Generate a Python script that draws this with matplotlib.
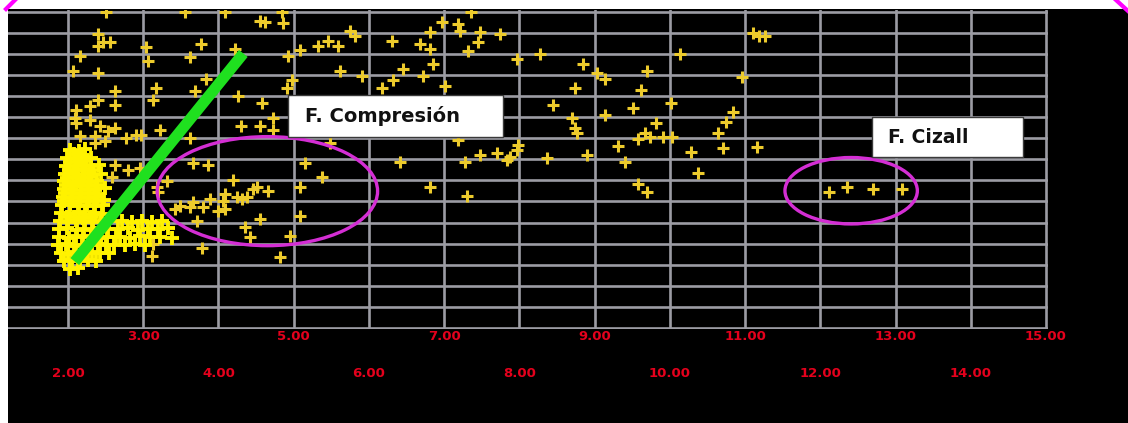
import matplotlib
matplotlib.use("Agg")
import matplotlib.pyplot as plt
import matplotlib.transforms as mtransforms
from matplotlib.patches import Ellipse, Rectangle
from matplotlib.lines import Line2D

# ---------------- data ----------------
pts_x = [2.51, 2.40, 2.47, 2.40, 2.56, 2.16, 2.07, 2.40, 3.04, 3.06,
         3.77, 3.62, 3.84, 4.09, 4.22, 3.17, 3.13, 3.69, 4.26, 2.63,
         2.40, 2.29, 2.63, 2.11, 2.09, 2.11, 2.29, 2.43, 2.63, 2.53,
         2.36, 2.77, 2.90, 2.97, 3.22, 3.62, 4.30, 2.16, 2.36, 2.49,
         3.56, 4.55, 4.86, 4.85, 4.62, 5.09, 5.32, 5.46, 5.59, 5.62,
         5.91, 5.75, 5.82, 4.93, 4.98, 4.91, 4.58, 4.73, 4.55, 4.73,
         5.48, 5.15, 5.38, 5.09, 4.19, 4.51, 4.46, 4.66, 4.38, 4.31,
         4.25, 4.09, 4.06, 3.89, 3.80, 3.99, 4.09, 3.66, 3.62, 3.49,
         3.42, 3.72, 4.55, 4.35, 4.42, 5.09, 4.95, 4.82, 3.78, 3.12,
         3.13, 3.32, 3.18, 3.20, 3.66, 3.86, 6.31, 6.18, 6.32, 6.45,
         6.72, 6.68, 6.81, 6.85, 6.81, 6.97, 7.19, 7.21, 7.48, 7.45,
         7.32, 7.74, 7.01, 7.19, 7.35, 7.97, 8.28, 8.84, 9.03, 9.14,
         9.70, 10.14, 10.96, 8.74, 9.61, 8.44, 8.70, 8.77, 9.14, 9.51,
         10.01, 9.81, 9.67, 9.57, 9.74, 9.91, 10.03, 10.84, 10.74, 10.64,
         9.31, 8.90, 9.41, 10.28, 10.70, 10.38, 6.41, 7.28, 7.48, 7.70,
         7.84, 7.88, 7.97, 8.37, 6.81, 7.31, 9.57, 9.70, 7.98, 8.74,
         11.11, 11.18, 11.27, 11.16, 12.11, 12.36, 12.70, 13.09,
         2.63, 2.80, 2.96, 2.59]
pts_y = [15.0, 13.94, 13.57, 13.38, 13.57, 12.91, 12.21, 12.07, 13.33, 12.68,
         13.47, 12.86, 11.83, 14.98, 13.24, 11.36, 10.80, 11.22, 10.99, 11.22,
         10.80, 10.52, 10.56, 10.33, 9.95, 9.72, 9.86, 9.58, 9.48, 9.34,
         9.11, 9.01, 9.15, 9.15, 9.39, 9.01, 9.58, 9.11, 8.78, 8.87,
         15.0, 14.55, 14.46, 15.0, 14.51, 13.19, 13.38, 13.62, 13.38, 12.21,
         11.97, 14.08, 13.85, 12.91, 11.74, 11.36, 10.66, 9.95, 9.58, 9.39,
         8.78, 7.84, 7.18, 6.71, 7.04, 6.67, 6.57, 6.48, 6.20, 6.10,
         6.20, 6.34, 6.01, 6.10, 5.73, 5.54, 5.63, 5.96, 5.73, 5.77,
         5.63, 5.07, 5.16, 4.79, 4.32, 5.31, 4.37, 3.38, 3.80, 3.43,
         3.99, 6.95, 6.71, 6.43, 7.84, 7.75, 13.62, 11.36, 11.74, 12.30,
         11.97, 13.47, 13.24, 12.54, 14.04, 14.51, 14.41, 14.08, 14.04, 13.57,
         13.15, 13.94, 11.46, 8.92, 15.0, 12.77, 13.00, 12.54, 12.11, 11.83,
         12.21, 13.00, 11.92, 11.36, 11.27, 10.56, 9.95, 9.25, 10.09, 10.42,
         10.66, 9.72, 9.25, 8.97, 9.06, 9.06, 9.06, 10.23, 9.77, 9.25,
         8.64, 8.22, 7.89, 8.36, 8.54, 7.37, 7.89, 7.89, 8.22, 8.31,
         7.98, 8.12, 8.45, 8.08, 6.71, 6.24, 6.81, 6.43, 8.69, 9.48,
         13.99, 13.85, 13.85, 8.59, 6.43, 6.71, 6.57, 6.57,
         7.75, 7.51, 7.61, 7.14]

# dense cluster near x = 2
cluster_x = [2.03, 2.14, 2.23,
             1.99, 2.10, 2.22, 2.31,
             1.97, 2.09, 2.18, 2.30, 2.41,
             1.96, 2.07, 2.20, 2.28, 2.44,
             1.94, 2.06, 2.15, 2.27, 2.38,
             1.95, 2.04, 2.17, 2.26, 2.36, 2.49,
             1.93, 2.05, 2.16, 2.28, 2.38,
             1.92, 2.02, 2.13, 2.25, 2.34, 2.46,
             1.91, 2.03, 2.14, 2.23, 2.36, 2.45,
             1.89, 2.00, 2.11, 2.22, 2.32, 2.43, 2.54,
             1.88, 1.99, 2.12, 2.21, 2.33, 2.42, 2.53,
             1.88, 2.01, 2.10, 2.20, 2.31, 2.44, 2.52, 2.64,
             1.86, 1.97, 2.08, 2.19, 2.30, 2.40, 2.51, 2.61,
             1.90, 2.00, 2.11, 2.22, 2.32, 2.43, 2.54,
             1.95, 2.05, 2.16, 2.27, 2.37,
             2.03, 2.13,
             2.72, 2.85, 2.98, 3.12, 3.25, 2.66, 2.80, 2.93, 3.06, 3.20, 3.33,
             2.69, 2.82, 2.96, 3.09, 3.22, 3.38, 2.76, 2.89, 3.02,
             2.08, 2.19, 2.02, 2.13, 2.24, 2.01, 2.12, 2.23, 2.33, 1.99, 2.10,
             2.21, 2.31, 1.97, 2.07, 2.18, 2.27, 2.39, 1.96, 2.06, 2.17, 2.28,
             2.40, 1.94, 2.05, 2.16, 2.26, 2.37, 2.48, 1.98, 2.09, 2.20, 2.31]
cluster_y = [8.45, 8.40, 8.50,
             8.08, 8.02, 8.12, 8.05,
             7.70, 7.66, 7.74, 7.68, 7.72,
             7.32, 7.36, 7.28, 7.34, 7.30,
             6.95, 6.90, 6.98, 6.93, 6.97,
             6.57, 6.60, 6.54, 6.59, 6.55, 6.62,
             6.20, 6.16, 6.23, 6.18, 6.21,
             5.82, 5.86, 5.79, 5.84, 5.80, 5.85,
             5.45, 5.41, 5.48, 5.43, 5.47, 5.42,
             5.07, 5.03, 5.10, 5.05, 5.09, 5.04, 5.08,
             4.69, 4.73, 4.66, 4.71, 4.67, 4.72, 4.68,
             4.32, 4.28, 4.35, 4.30, 4.34, 4.29, 4.33, 4.31,
             3.94, 3.98, 3.91, 3.96, 3.92, 3.97, 3.93, 3.95,
             3.57, 3.53, 3.60, 3.55, 3.59, 3.54, 3.58,
             3.19, 3.22, 3.16, 3.21, 3.18,
             2.82, 2.86,
             5.07, 5.03, 5.09, 5.05, 5.08, 4.69, 4.72, 4.67, 4.71, 4.68, 4.73,
             4.32, 4.29, 4.34, 4.30, 4.33, 4.28, 3.94, 3.97, 3.92,
             8.26, 8.22, 7.88, 7.85, 7.90, 7.51, 7.48, 7.53, 7.50, 7.12, 7.15,
             7.10, 7.14, 6.76, 6.74, 6.78, 6.75, 6.79, 6.38, 6.40, 6.36, 6.39,
             6.37, 6.02, 6.00, 6.04, 6.01, 6.03, 6.05, 5.25, 5.27, 5.23, 5.26]

x_label_values = list(range(1, 16))
x_grid = list(range(2, 16))
y_grid = list(range(0, 16))

# annotations
green_x = [2.09, 4.33]
green_y = [3.15, 13.02]
ell1 = dict(center=(4.65, 6.49), w=2.93, h=5.17)
ell2 = dict(center=(12.41, 6.51), w=1.76, h=3.15)
box1 = dict(x0=4.93, y0=9.07, x1=7.78, y1=11.05, tx=5.15, ty=10.03, text="F. Compresión")
box2 = dict(x0=12.69, y0=8.09, x1=14.69, y1=10.01, tx=12.90, ty=9.03, text="F. Cizall")

# ---------------- figure ----------------
W, H = 1128, 423
fig = plt.figure(figsize=(W / 100, H / 100), dpi=100, facecolor="black")

left_px, right_px = 8, 1047.5
top_px, bot_px = 10.4, 329.3
ax = fig.add_axes([left_px / W, 1 - bot_px / H, (right_px - left_px) / W, (bot_px - top_px) / H])
ax.set_facecolor("black")
ax.set_xlim(1.202, 15.02)
ax.set_ylim(-0.06, 15.06)
for s in ax.spines.values():
    s.set_visible(False)
ax.set_xticks(x_grid)
ax.set_yticks(y_grid)
ax.tick_params(length=0, labelbottom=False, labelleft=False)
ax.set_axisbelow(True)
ax.grid(True, color="#9c9ca4", linewidth=1.9)

ax.plot(pts_x, pts_y, linestyle="none", marker="+", markersize=8.5,
        markeredgewidth=2.2, color="#EDCB2C", zorder=2)
ax.plot(cluster_x, cluster_y, linestyle="none", marker="+", markersize=9.5,
        markeredgewidth=2.8, color="#FFF200", zorder=2)

ax.plot(green_x, green_y, color="#1FE01F", linewidth=8, solid_capstyle="butt", zorder=3)

for e in (ell1, ell2):
    ax.add_patch(Ellipse(e["center"], e["w"], e["h"], fill=False,
                         edgecolor="#D42ED4", linewidth=2.4, zorder=4))

for b, fs in ((box1, 14), (box2, 13.5)):
    ax.add_patch(Rectangle((b["x0"], b["y0"]), b["x1"] - b["x0"], b["y1"] - b["y0"],
                           facecolor="white", edgecolor="#3a3a3a", linewidth=1.0, zorder=5))
    ax.text(b["tx"], b["ty"], b["text"], ha="left", va="center", fontsize=fs,
            fontweight="bold", color="#111111", family="DejaVu Sans", zorder=6)

# two-row red tick labels
trans = mtransforms.blended_transform_factory(ax.transData, ax.transAxes)
for v in x_label_values:
    yy = -0.022 if v % 2 == 1 else -0.138
    ax.text(v, yy, f"{v:.2f}", transform=trans, ha="center", va="center",
            fontsize=9.5, fontweight="bold", color="#E4001C", clip_on=False)

# white border strips and magenta corner marks
fig.patches.append(Rectangle((0, 1 - 9.5 / H), 1, 9.5 / H, transform=fig.transFigure,
                             facecolor="white", edgecolor="none", zorder=10))
fig.patches.append(Rectangle((0, 0), 8 / W, 1, transform=fig.transFigure,
                             facecolor="white", edgecolor="none", zorder=10))
fig.lines.append(Line2D([6 / W, 15 / W], [1 - 9 / H, 1.0], transform=fig.transFigure,
                        color="#FF00FF", linewidth=3, zorder=11))
fig.lines.append(Line2D([1116 / W, 1128 / W], [1.0, 1 - 11 / H], transform=fig.transFigure,
                        color="#FF00FF", linewidth=3, zorder=11))

fig.savefig("out.png", dpi=100, facecolor="black")
